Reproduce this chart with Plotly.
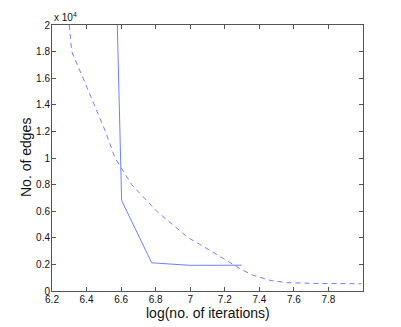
import plotly.graph_objects as go

# solid curve: log(iterations) vs number of edges
solid_x = [6.578, 6.603, 6.777, 7.0, 7.298]
solid_y = [20000, 6800, 2120, 1930, 1940]

# dashed curve
dashed_x = [6.300, 6.310, 6.314, 6.380, 6.445, 6.509, 6.565, 6.661, 6.806,
            6.989, 7.057, 7.172, 7.249, 7.298, 7.365, 7.462, 7.558, 7.751, 7.990]
dashed_y = [20000, 18400, 18000, 16000, 14000, 12000, 10000, 8000, 6000,
            4000, 3500, 2620, 2000, 1600, 1180, 800, 630, 560, 550]

x_ticks = [6.2, 6.4, 6.6, 6.8, 7.0, 7.2, 7.4, 7.6, 7.8]
x_labels = ["6.2", "6.4", "6.6", "6.8", "7", "7.2", "7.4", "7.6", "7.8"]
y_ticks = [0, 2000, 4000, 6000, 8000, 10000, 12000, 14000, 16000, 18000, 20000]
y_labels = ["0", "0.2", "0.4", "0.6", "0.8", "1", "1.2", "1.4", "1.6", "1.8", "2"]

line_color = "#6f80ff"
font = "Liberation Sans, Arial, sans-serif"
text_color = "#111111"

fig = go.Figure()

fig.add_trace(go.Scatter(
    x=solid_x, y=solid_y, mode="lines",
    line=dict(color=line_color, width=1),
    showlegend=False,
))
fig.add_trace(go.Scatter(
    x=dashed_x, y=dashed_y, mode="lines",
    line=dict(color=line_color, width=1, dash="5px,4px"),
    showlegend=False,
))

axis_common = dict(
    showgrid=False, zeroline=False, automargin=False,
    showline=True, linecolor="#555555", linewidth=1, mirror="ticks",
    ticks="inside", ticklen=4, tickcolor="#555555",
    tickfont=dict(family=font, size=10, color=text_color),
)

fig.update_layout(
    width=401, height=327,
    margin=dict(l=52, r=38, t=25, b=36, autoexpand=False),
    paper_bgcolor="white", plot_bgcolor="white",
    xaxis=dict(range=[6.2, 8.0], tickvals=x_ticks, ticktext=x_labels,
               ticklabelstandoff=-1, **axis_common),
    yaxis=dict(range=[0, 20000], tickvals=y_ticks, ticktext=y_labels,
               ticklabelstandoff=-1, **axis_common),
    annotations=[
        dict(text="x 10<sup>4</sup>", xref="paper", yref="paper",
             x=0.0, y=1.0, xanchor="left", yanchor="bottom", showarrow=False,
             font=dict(family=font, size=10, color=text_color)),
        # axis titles
        dict(text="log(no. of iterations)", xref="paper", yref="paper",
             x=0.5, y=0.0, xanchor="center", yanchor="middle", yshift=-22,
             showarrow=False, font=dict(family=font, size=14, color=text_color)),
        dict(text="No. of edges", xref="paper", yref="paper",
             x=0.0, y=0.5, xanchor="center", yanchor="middle", xshift=-26,
             textangle=-90, showarrow=False,
             font=dict(family=font, size=14, color=text_color)),
    ],
)

# drop the default body margin so the figure sits at the window's corner
fig.write_html(
    "out.html",
    config={"displayModeBar": False},
    post_script="document.body.style.margin='0';document.body.style.overflow='hidden';",
)
